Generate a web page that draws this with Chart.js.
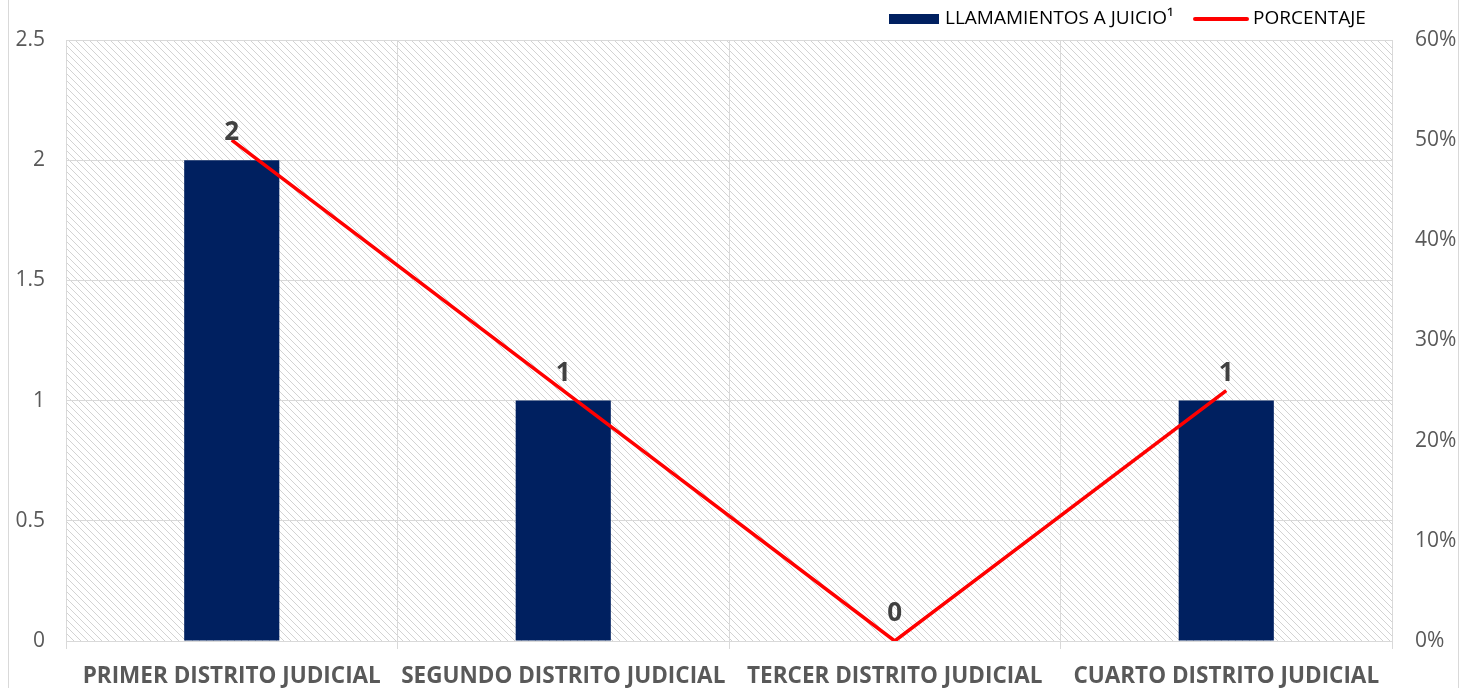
<!DOCTYPE html>
<html lang="es">
<head>
<meta charset="UTF-8" />
<title>Llamamientos a juicio por distrito judicial</title>
<script src="https://cdn.jsdelivr.net/npm/chart.js"></script>
<style>
  body { margin: 0; background: #fff; }
</style>
</head>
<body>
<canvas id="juicioChart" width="1465" height="688"></canvas>
<script>
var distritos = ["PRIMER DISTRITO JUDICIAL", "SEGUNDO DISTRITO JUDICIAL", "TERCER DISTRITO JUDICIAL", "CUARTO DISTRITO JUDICIAL"];
var llamamientos = [2, 1, 0, 1];
var porcentaje = [50, 25, 0, 25];
var serieBarras = "LLAMAMIENTOS A JUICIO¹";
var serieLinea = "PORCENTAJE";

var fuente = "'Open Sans', 'DejaVu Sans', sans-serif";
var azul = "#002060";
var rojo = "#ff0000";
var gris = "#d9d9d9";

// diagonal hatch used as plot background
function hatchPattern(ctx) {
  var s = 7;
  var c = document.createElement("canvas");
  c.width = s; c.height = s;
  var g = c.getContext("2d");
  g.strokeStyle = "#d3d3d3";
  g.lineWidth = 1;
  g.beginPath();
  for (var k = -1; k <= 1; k++) {
    g.moveTo(-1, -1 + k * s);
    g.lineTo(s + 1, s + 1 + k * s);
  }
  g.stroke();
  return ctx.createPattern(c, "repeat");
}

var fondo = {
  id: "fondo",
  beforeDraw: function (chart) {
    var ctx = chart.ctx, a = chart.chartArea;
    ctx.save();
    ctx.fillStyle = "#fff";
    ctx.fillRect(0, 0, chart.width, chart.height);
    ctx.fillStyle = hatchPattern(ctx);
    ctx.fillRect(a.left, a.top, a.right - a.left, a.bottom - a.top);
    ctx.strokeStyle = gris;
    ctx.lineWidth = 1;
    ctx.beginPath();
    ctx.moveTo(8.5, 0); ctx.lineTo(8.5, chart.height);
    ctx.moveTo(1458.5, 0); ctx.lineTo(1458.5, chart.height);
    ctx.stroke();
    ctx.restore();
  }
};

var etiquetas = {
  id: "etiquetas",
  afterDatasetsDraw: function (chart) {
    var ctx = chart.ctx;
    var meta = chart.getDatasetMeta(1);
    ctx.save();
    ctx.font = "bold 26px " + fuente;
    ctx.fillStyle = "#404040";
    ctx.textAlign = "center";
    ctx.textBaseline = "alphabetic";
    meta.data.forEach(function (bar, i) {
      ctx.fillText(String(llamamientos[i]), bar.x, bar.y - 20);
    });
    ctx.restore();
  }
};

var leyenda = {
  id: "leyenda",
  afterDraw: function (chart) {
    var ctx = chart.ctx;
    ctx.save();
    ctx.font = "19px " + fuente;
    ctx.textBaseline = "middle";
    ctx.fillStyle = azul;
    ctx.fillRect(889, 14, 50, 10);
    ctx.fillStyle = "#000";
    ctx.fillText(serieBarras, 945, 19);
    ctx.strokeStyle = rojo;
    ctx.lineWidth = 4;
    ctx.lineCap = "round";
    ctx.beginPath();
    ctx.moveTo(1195, 19); ctx.lineTo(1247, 19);
    ctx.stroke();
    ctx.fillText(serieLinea, 1253, 19);
    ctx.restore();
  }
};

var ctx = document.getElementById("juicioChart").getContext("2d");
var juicioChart = new Chart(ctx, {
  type: "bar",
  data: {
    labels: distritos,
    datasets: [
      {
        type: "line",
        label: serieLinea,
        data: porcentaje,
        yAxisID: "y1",
        borderColor: rojo,
        backgroundColor: rojo,
        borderWidth: 3.5,
        pointRadius: 0,
        tension: 0,
        order: 0
      },
      {
        label: serieBarras,
        data: llamamientos,
        yAxisID: "y",
        backgroundColor: azul,
        barPercentage: 0.287,
        categoryPercentage: 1,
        order: 1
      }
    ]
  },
  options: {
    responsive: false,
    animation: false,
    layout: { padding: { top: 40, left: 0, right: 0, bottom: 0 } },
    plugins: {
      legend: { display: false },
      tooltip: { enabled: false }
    },
    scales: {
      x: {
        grid: { color: gris, tickLength: 8, offset: true },
        border: { color: gris },
        ticks: {
          color: "#595959",
          font: { family: fuente, size: 22.5, weight: "bold" },
          padding: 14,
          maxRotation: 0,
          autoSkip: false
        },
        afterFit: function (s) { s.height = 47; }
      },
      y: {
        position: "left",
        min: 0,
        max: 2.5,
        ticks: {
          stepSize: 0.5,
          color: "#595959",
          font: { family: fuente, size: 21 },
          padding: 21,
          callback: function (v) { return String(v); }
        },
        grid: { color: gris, drawTicks: false },
        border: { color: gris },
        afterFit: function (s) { s.width = 66; }
      },
      y1: {
        position: "right",
        min: 0,
        max: 60,
        ticks: {
          stepSize: 10,
          color: "#595959",
          font: { family: fuente, size: 21 },
          padding: 23,
          callback: function (v) { return v + "%"; }
        },
        grid: { drawOnChartArea: false, drawTicks: false },
        border: { color: gris },
        afterFit: function (s) { s.width = 73; }
      }
    }
  },
  plugins: [fondo, etiquetas, leyenda]
});
</script>
</body>
</html>
